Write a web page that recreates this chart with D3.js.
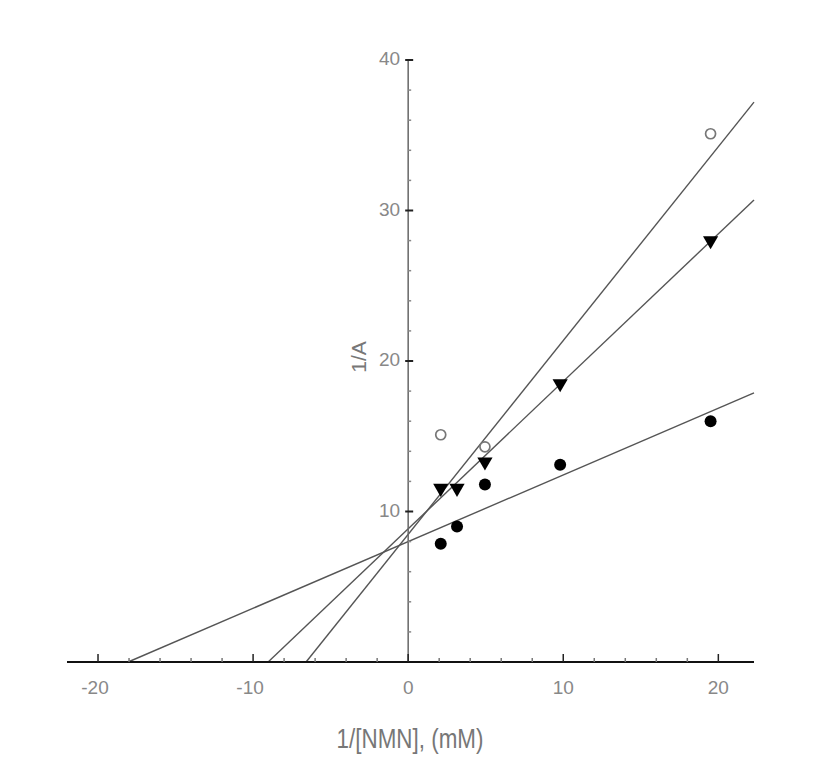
<!DOCTYPE html>
<html><head><meta charset="utf-8">
<script src="https://cdn.jsdelivr.net/npm/d3@7"></script>
<style>body{margin:0;background:#fff}svg{display:block}</style>
</head><body>
<script>
// Data
const xValues = [2.1, 3.15, 4.95, 9.8, 19.5];
const filledCircles = [7.85, 9.0, 11.8, 13.1, 16.0];
const triangles = [11.55, 11.55, 13.3, 18.5, 28.0];
const openX = [2.1, 4.95, 19.5];
const openCircles = [15.1, 14.3, 35.1];
// fitted lines: [slope, intercept]
const lineSlopes = [0.443, 0.98, 1.288];
const lineIntercepts = [8.0, 8.85, 8.48];
const xTickLabels = [-20, -10, 0, 10, 20];
const yTickLabels = [10, 20, 30, 40];

const W = 827, H = 768;
const svg = d3.select("body").append("svg").attr("width", W).attr("height", H);
const x = d3.scaleLinear().domain([-22, 22.3]).range([67, 754]);
const y = d3.scaleLinear().domain([0, 40]).range([662, 60]);
const font = "'Liberation Sans',Arial,sans-serif";

// Lines
lineSlopes.forEach((m, i) => {
  const b = lineIntercepts[i];
  const x0 = -b / m, x1 = 22.3;
  svg.append("line")
    .attr("x1", x(x0)).attr("y1", y(0))
    .attr("x2", x(x1)).attr("y2", y(m * x1 + b))
    .attr("stroke", "#555").attr("stroke-width", 1.4);
});

// Y axis
const yAxis = svg.append("g");
yAxis.append("line").attr("x1", x(0)).attr("x2", x(0)).attr("y1", y(0)).attr("y2", y(40))
  .attr("stroke", "#666").attr("stroke-width", 1.5);
d3.range(2, 41, 2).forEach(v => {
  const major = v % 10 === 0;
  yAxis.append("line").attr("x1", x(0) - (major ? 3 : 0)).attr("x2", x(0) + (major ? 5 : 3))
    .attr("y1", y(v)).attr("y2", y(v)).attr("stroke", major ? "#222" : "#888").attr("stroke-width", major ? 2 : 1.5);
});
yAxis.selectAll("text.yt").data(yTickLabels).join("text")
  .attr("x", x(0) - 8).attr("y", d => y(d) + 5)
  .attr("text-anchor", "end").attr("font-family", font).attr("font-size", 19)
  .attr("fill", "#888").text(d => d);

// X axis
const xAxis = svg.append("g");
xAxis.append("line").attr("x1", x(-22)).attr("x2", x(22.3)).attr("y1", y(0)).attr("y2", y(0))
  .attr("stroke", "#111").attr("stroke-width", 2.2);
d3.range(-20, 21, 2).forEach(v => {
  const major = v % 10 === 0;
  xAxis.append("line").attr("x1", x(v)).attr("x2", x(v))
    .attr("y1", y(0)).attr("y2", y(0) - (major ? 8 : 4))
    .attr("stroke", major ? "#222" : "#777").attr("stroke-width", 1.5);
});
xAxis.selectAll("text.xt").data(xTickLabels).join("text")
  .attr("x", d => x(d) - (d < 0 ? 3 : 0)).attr("y", y(0) + 32)
  .attr("text-anchor", "middle").attr("font-family", font).attr("font-size", 19)
  .attr("fill", "#888").text(d => d);

// Axis titles
svg.append("text").attr("transform", "translate(410,748) scale(0.83,1)").attr("text-anchor", "middle")
  .attr("font-family", font).attr("font-size", 27).attr("fill", "#777").text("1/[NMN], (mM)");
svg.append("text").attr("transform", "translate(366,357) rotate(-90)").attr("text-anchor", "middle")
  .attr("font-family", font).attr("font-size", 21).attr("fill", "#777").text("1/A");

// Markers
svg.selectAll("circle.f").data(xValues).join("circle")
  .attr("cx", d => x(d)).attr("cy", (d, i) => y(filledCircles[i])).attr("r", 6).attr("fill", "#000");
const tri = d3.symbol().type(d3.symbolTriangle).size(100);
svg.selectAll("path.t").data(xValues).join("path")
  .attr("d", tri).attr("fill", "#000")
  .attr("transform", (d, i) => `translate(${x(d)},${y(triangles[i])}) rotate(180)`);
svg.selectAll("circle.o").data(openX).join("circle")
  .attr("cx", d => x(d)).attr("cy", (d, i) => y(openCircles[i])).attr("r", 5)
  .attr("fill", "#fff").attr("stroke", "#777").attr("stroke-width", 1.7);
</script>
</body></html>
